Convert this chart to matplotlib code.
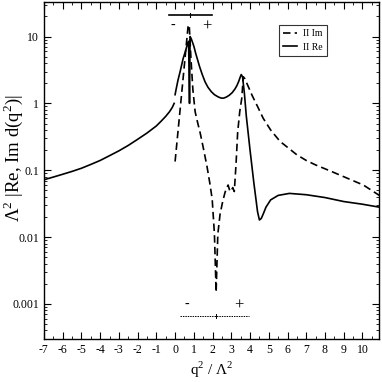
import numpy as np
import matplotlib
matplotlib.use('Agg')
import matplotlib.pyplot as plt
from matplotlib.ticker import MultipleLocator, LogLocator, NullFormatter, FixedLocator

plt.rcParams['font.family'] = ['Liberation Serif', 'DejaVu Serif']
plt.rcParams['mathtext.fontset'] = 'custom'
plt.rcParams['mathtext.rm'] = 'Liberation Serif'
plt.rcParams['axes.unicode_minus'] = False

# II Re, below threshold
re_left_x = [-7, -6.5, -6, -5.5, -5, -4.5, -4, -3.5, -3, -2.5, -2, -1.5, -1, -0.75, -0.5,
             -0.3, -0.15, -0.05]
re_left_y = [0.072, 0.079, 0.087, 0.096, 0.107, 0.122, 0.14, 0.165, 0.195, 0.235, 0.29,
             0.36, 0.46, 0.54, 0.64, 0.75, 0.87, 1.0]

# II Re, above threshold
re_right_x = [0.0, 0.05, 0.15, 0.27, 0.43, 0.55, 0.64, 0.72, 0.77, 0.80, 0.86, 0.93, 1.0, 1.1,
              1.2, 1.3, 1.45, 1.6, 1.75, 1.93, 2.1, 2.3, 2.46, 2.6, 2.75, 2.9, 3.05, 3.2,
              3.3, 3.4, 3.47, 3.53, 3.6, 3.7, 3.8, 4.0, 4.2, 4.4, 4.5, 4.6, 4.7, 4.85, 5.1,
              5.5, 6.1, 7.0, 8.0, 9.0, 10.0, 10.9]
re_right_y = [1.35, 1.6, 2.2, 3.0, 4.7, 6.0, 7.4, 8.5, 1.0, 10.0, 9.3, 8.2, 7.2, 5.6,
              4.5, 3.6, 2.7, 2.1, 1.75, 1.5, 1.35, 1.25, 1.2, 1.2, 1.25, 1.33, 1.45, 1.65,
              1.85, 2.15, 2.45, 2.7, 2.5, 1.4, 0.65, 0.2, 0.066, 0.024, 0.018, 0.019, 0.022,
              0.028, 0.036, 0.042, 0.045, 0.043, 0.039, 0.034, 0.031, 0.028]

# II Im
im_x = [0.0, 0.35, 0.70, 0.76, 0.85, 0.95, 1.07, 1.2, 1.34, 1.5, 1.7, 1.85, 1.98, 2.1, 2.19,
        2.28, 2.4, 2.55, 2.67, 2.76, 2.83, 2.93, 3.0, 3.08, 3.16, 3.25, 3.34, 3.45, 3.56,
        3.64, 3.72, 3.9, 4.12, 4.4, 4.7, 5.1, 5.6, 6.0, 6.5, 7.0, 7.5, 8.3, 9.0, 10.05, 10.9]
im_y = [0.135, 1.4, 15.0, 14.0, 4.5, 1.6, 0.75, 0.52, 0.36, 0.22, 0.115, 0.065, 0.037,
        0.011, 0.0015, 0.011, 0.022, 0.035, 0.047, 0.055, 0.06, 0.048, 0.05, 0.055, 0.048,
        0.12, 0.37, 0.75, 1.2, 2.5, 2.35, 1.8, 1.3, 0.9, 0.6, 0.4, 0.27, 0.22, 0.17, 0.14,
        0.12, 0.097, 0.08, 0.06, 0.042]

# threshold markers (bar x-range, bar y, centre tick x, sign positions)
top_bar_x = [-0.32, 1.98]
top_bar_y = 21
top_tick_x = 0.8
top_minus = (-0.1, 14.5)
top_plus = (1.7, 14.0)

bot_bar_x = [0.27, 3.96]
bot_bar_y = 0.00066
bot_tick_x = 2.2
bot_minus = (0.64, 0.00097)
bot_plus = (3.42, 0.00094)

fig = plt.figure(figsize=(3.82, 3.82), dpi=100)
ax = fig.add_axes([0.115, 0.113, 0.878, 0.882])

ax.plot(im_x, im_y, color='black', lw=1.2, ls=(0, (4.5, 2.5)), label='II Im')
ax.plot(re_left_x, re_left_y, color='black', lw=1.2, label='II Re')
ax.plot(re_right_x, re_right_y, color='black', lw=1.2)

ax.plot(top_bar_x, [top_bar_y, top_bar_y], color='black', lw=1.2)
ax.plot([top_tick_x, top_tick_x], [top_bar_y * 0.93, top_bar_y * 1.07], color='black', lw=0.8)
ax.text(top_minus[0], top_minus[1], '-', ha='center', va='center', fontsize=10)
ax.text(top_plus[0], top_plus[1], '+', ha='center', va='center', fontsize=12)

ax.plot(bot_bar_x, [bot_bar_y, bot_bar_y], color='black', lw=0.7, ls=(0, (1.5, 1)))
ax.plot([bot_tick_x, bot_tick_x], [bot_bar_y * 0.93, bot_bar_y * 1.07], color='black', lw=0.7)
ax.text(bot_minus[0], bot_minus[1], '-', ha='center', va='center', fontsize=10)
ax.text(bot_plus[0], bot_plus[1], '+', ha='center', va='center', fontsize=12)

ax.set_yscale('log')
ax.set_xlim(-7, 10.9)
ax.set_ylim(3.0e-4, 33)

ax.xaxis.set_major_locator(MultipleLocator(1))
ax.xaxis.set_minor_locator(MultipleLocator(0.5))
ax.yaxis.set_major_locator(FixedLocator([0.001, 0.01, 0.1, 1, 10]))
ax.yaxis.set_minor_locator(LogLocator(base=10, subs=np.arange(2, 10)))
ax.yaxis.set_minor_formatter(NullFormatter())
ax.set_yticklabels(['0.001', '0.01', '0.1', '1', '10'])

ax.tick_params(which='both', direction='in', top=True, right=True, labelsize=8.5)
ax.tick_params(which='major', length=5, width=0.8)
ax.tick_params(which='minor', length=2.5, width=0.6)
for s in ax.spines.values():
    s.set_linewidth(1.0)

ax.set_xlabel('q$^2$ / $\\Lambda^2$', fontsize=11, labelpad=3)
ax.set_ylabel('$\\Lambda^2$ |Re, Im d(q$^2$)|', fontsize=13.5)
ax.yaxis.label.set_va('center')
ax.yaxis.set_label_coords(-0.092, 0.537)

leg = ax.legend(loc='upper left', bbox_to_anchor=(0.70, 0.932), fontsize=7,
                handlelength=1.4, frameon=True, fancybox=False, borderpad=0.45,
                borderaxespad=0, labelspacing=0.45, handletextpad=0.6)
leg.get_frame().set_edgecolor('black')
leg.get_frame().set_linewidth(0.8)

plt.savefig('out.png', dpi=100)
